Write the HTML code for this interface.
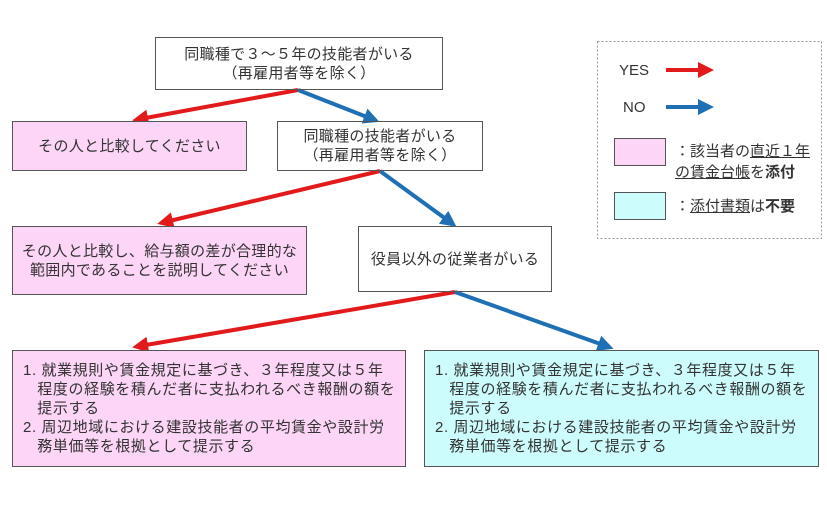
<!DOCTYPE html>
<html><head><meta charset="utf-8"><style>
body{margin:0;width:827px;height:505px;background:#fff;position:relative;overflow:hidden;font-family:"Liberation Sans","Noto Sans CJK JP",sans-serif;color:#333;}
.b{position:absolute;box-sizing:border-box;border:1.5px solid #555;display:flex;align-items:center;justify-content:center;text-align:center;font-size:15px;line-height:19px;letter-spacing:0.3px;}
.p{background:#fcd5f7;}
.c{background:#ccfcfc;}
.l{display:block;text-align:left;padding:10px 0 0 10px;font-size:15px;line-height:19px;white-space:nowrap;letter-spacing:0.6px;}
.t{position:absolute;font-size:15px;line-height:21px;}
u{text-decoration:underline;}
</style></head><body>
<svg width="827" height="505" style="position:absolute;left:0;top:0">
<defs>
<marker id="r" markerWidth="4" markerHeight="4" refX="2" refY="2" orient="auto"><path d="M0,0 L4,2 L0,4z" fill="#e31a1c"/></marker>
<marker id="bl" markerWidth="4" markerHeight="4" refX="2" refY="2" orient="auto"><path d="M0,0 L4,2 L0,4z" fill="#1f6fb4"/></marker>
</defs>
<g stroke-width="4" fill="none">
<line x1="298" y1="90" x2="140" y2="119" stroke="#e31a1c" marker-end="url(#r)"/>
<line x1="298" y1="90" x2="372" y2="119" stroke="#1f6fb4" marker-end="url(#bl)"/>
<line x1="380" y1="171" x2="165" y2="222" stroke="#e31a1c" marker-end="url(#r)"/>
<line x1="380" y1="171" x2="450" y2="222" stroke="#1f6fb4" marker-end="url(#bl)"/>
<line x1="455" y1="292" x2="140" y2="346" stroke="#e31a1c" marker-end="url(#r)"/>
<line x1="455" y1="292" x2="606" y2="346" stroke="#1f6fb4" marker-end="url(#bl)"/>
<line x1="666" y1="70" x2="706" y2="70" stroke="#e31a1c" marker-end="url(#r)"/>
<line x1="666" y1="107" x2="706" y2="107" stroke="#1f6fb4" marker-end="url(#bl)"/>
</g>
<rect x="597.5" y="41.5" width="224" height="197" fill="none" stroke="#999" stroke-dasharray="2,2"/>
</svg>
<div class="b" style="left:155px;top:37px;width:288px;height:53px;">同職種で３～５年の技能者がいる<br>（再雇用者等を除く）</div>
<div class="b p" style="left:12px;top:121px;width:235px;height:50px;">その人と比較してください</div>
<div class="b" style="left:277px;top:121px;width:206px;height:50px;">同職種の技能者がいる<br>（再雇用者等を除く）</div>
<div class="b p" style="left:12px;top:226px;width:295px;height:69px;">その人と比較し、給与額の差が合理的な<br>範囲内であることを説明してください</div>
<div class="b" style="left:358px;top:226px;width:194px;height:66px;">役員以外の従業者がいる</div>
<div class="b p l" style="left:12px;top:350px;width:394px;height:117px;">1. 就業規則や賃金規定に基づき、３年程度又は５年<br>&nbsp;&nbsp;&nbsp;程度の経験を積んだ者に支払われるべき報酬の額を<br>&nbsp;&nbsp;&nbsp;提示する<br>2. 周辺地域における建設技能者の平均賃金や設計労<br>&nbsp;&nbsp;&nbsp;務単価等を根拠として提示する</div>
<div class="b c l" style="left:424px;top:350px;width:395px;height:117px;">1. 就業規則や賃金規定に基づき、３年程度又は５年<br>&nbsp;&nbsp;&nbsp;程度の経験を積んだ者に支払われるべき報酬の額を<br>&nbsp;&nbsp;&nbsp;提示する<br>2. 周辺地域における建設技能者の平均賃金や設計労<br>&nbsp;&nbsp;&nbsp;務単価等を根拠として提示する</div>
<div class="t" style="left:619px;top:60px;">YES</div>
<div class="t" style="left:623px;top:97px;">NO</div>
<div class="b p" style="left:614px;top:138px;width:52px;height:28px;"></div>
<div class="b c" style="left:614px;top:192px;width:52px;height:28px;"></div>
<div class="t" style="left:675px;top:141px;">：該当者の<u>直近１年</u><br><u>の賃金台帳</u>を<b>添付</b></div>
<div class="t" style="left:675px;top:196px;">：<u>添付書類</u>は<b>不要</b></div>
</body></html>
